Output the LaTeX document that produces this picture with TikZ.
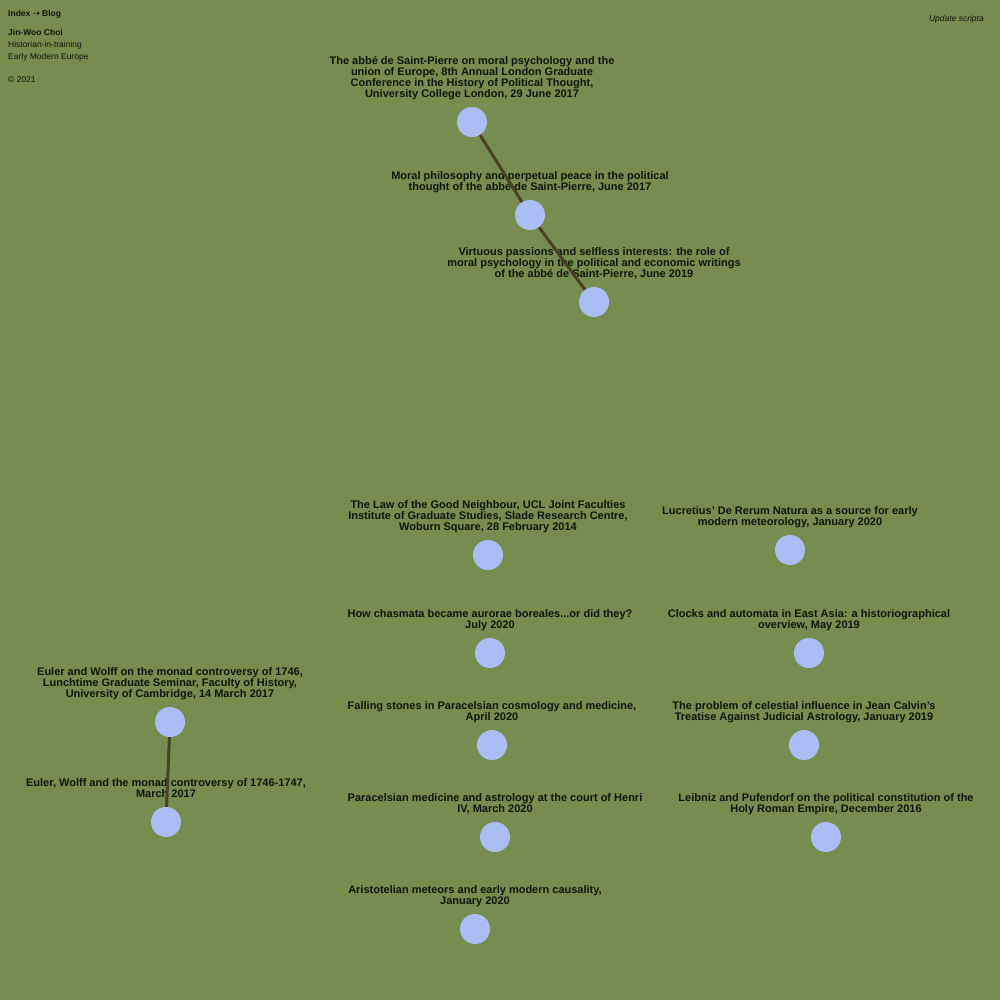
\documentclass[tikz,border=0pt]{standalone}
\usepackage{fontspec}
\setmainfont{Liberation Sans}
\newfontfamily\arrowfont{DejaVu Sans}
\usepackage{xcolor}
\usetikzlibrary{positioning}
\definecolor{pagegreen}{RGB}{117,142,80}
\definecolor{talkblue}{RGB}{170,190,245}
\definecolor{threadbrown}{RGB}{78,64,40}
\definecolor{inkblack}{RGB}{17,20,12}
\pgfdeclarelayer{pagelayer}
\pgfdeclarelayer{titlelayer}
\pgfdeclarelayer{threadlayer}
\pgfsetlayers{pagelayer,titlelayer,threadlayer,main}

\begin{document}
\begin{tikzpicture}[x=1pt, y=-1pt,
    talk/.style={circle, fill=talkblue, minimum size=30pt, inner sep=0pt, outer sep=0pt},
    title/.style={align=center, inner sep=0pt, text=inkblack,
        font=\bfseries\fontsize{11}{11}\selectfont, execute at end node=\vphantom{g}},
    thread/.style={draw=threadbrown, line width=3pt},
    meta/.style={anchor=base west, inner sep=0pt, text=inkblack, font=\fontsize{8.5}{10}\selectfont}]

    % Page
    \begin{pgfonlayer}{pagelayer}
        \fill[pagegreen] (0,0) rectangle (1000,1000);
    \end{pgfonlayer}

    % Header
    \node[meta, font=\bfseries\fontsize{8.5}{10}\selectfont] (nav) at (8,16.5) {Index {\arrowfont ⇢} Blog};
    \node[meta, font=\bfseries\fontsize{8.5}{10}\selectfont] (author) at (8,36) {Jin-Woo Choi};
    \node[meta] (role) at (8,48) {Historian-in-training};
    \node[meta] (field) at (8,59.5) {Early Modern Europe};
    \node[meta] (year) at (8,83) {© 2021};
    \node[meta, anchor=base east, font=\itshape\fontsize{8.5}{10}\selectfont] (update) at (984,22) {Update scripta};

    % Talks
    \foreach \n/\x/\y in {A1/472/122, A2/530/215, A3/594/302,
                          B1/488/555, B2/490/653, B3/492/745, B4/495/837, B5/475/929,
                          C1/790/550, C2/809/653, C3/804/745, C4/826/837,
                          D1/170/722, D2/166/822}
        \node[talk] (\n) at (\x,\y) {};

    % Titles
    \begin{pgfonlayer}{titlelayer}
    \foreach \n/\t in {
        A1/{The abbé de Saint-Pierre on moral psychology and the\\union of Europe, 8th Annual London Graduate\\Conference in the History of Political Thought,\\University College London, 29 June 2017},
        A2/{Moral philosophy and perpetual peace in the political\\thought of the abbé de Saint-Pierre, June 2017},
        A3/{Virtuous passions and selfless interests: the role of\\moral psychology in the political and economic writings\\of the abbé de Saint-Pierre, June 2019},
        B1/{The Law of the Good Neighbour, UCL Joint Faculties\\Institute of Graduate Studies, Slade Research Centre,\\Woburn Square, 28 February 2014},
        B2/{How chasmata became aurorae boreales...or did they?\\July 2020},
        B3/{Falling stones in Paracelsian cosmology and medicine,\\April 2020},
        B4/{Paracelsian medicine and astrology at the court of Henri\\IV, March 2020},
        B5/{Aristotelian meteors and early modern causality,\\January 2020},
        C1/{Lucretius’ De Rerum Natura as a source for early\\modern meteorology, January 2020},
        C2/{Clocks and automata in East Asia: a historiographical\\overview, May 2019},
        C3/{The problem of celestial influence in Jean Calvin's\\Treatise Against Judicial Astrology, January 2019},
        C4/{Leibniz and Pufendorf on the political constitution of the\\Holy Roman Empire, December 2016},
        D1/{Euler and Wolff on the monad controversy of 1746,\\Lunchtime Graduate Seminar, Faculty of History,\\University of Cambridge, 14 March 2017},
        D2/{Euler, Wolff and the monad controversy of 1746-1747,\\March 2017}}
        \node[title, above=6.7pt of \n] (\n title) {\t};
    \end{pgfonlayer}

    % Threads
    \begin{pgfonlayer}{threadlayer}
        \draw[thread] (A1) -- (A2);
        \draw[thread] (A2) -- (A3);
        \draw[thread] (D1) -- (D2);
    \end{pgfonlayer}
\end{tikzpicture}
\end{document}
